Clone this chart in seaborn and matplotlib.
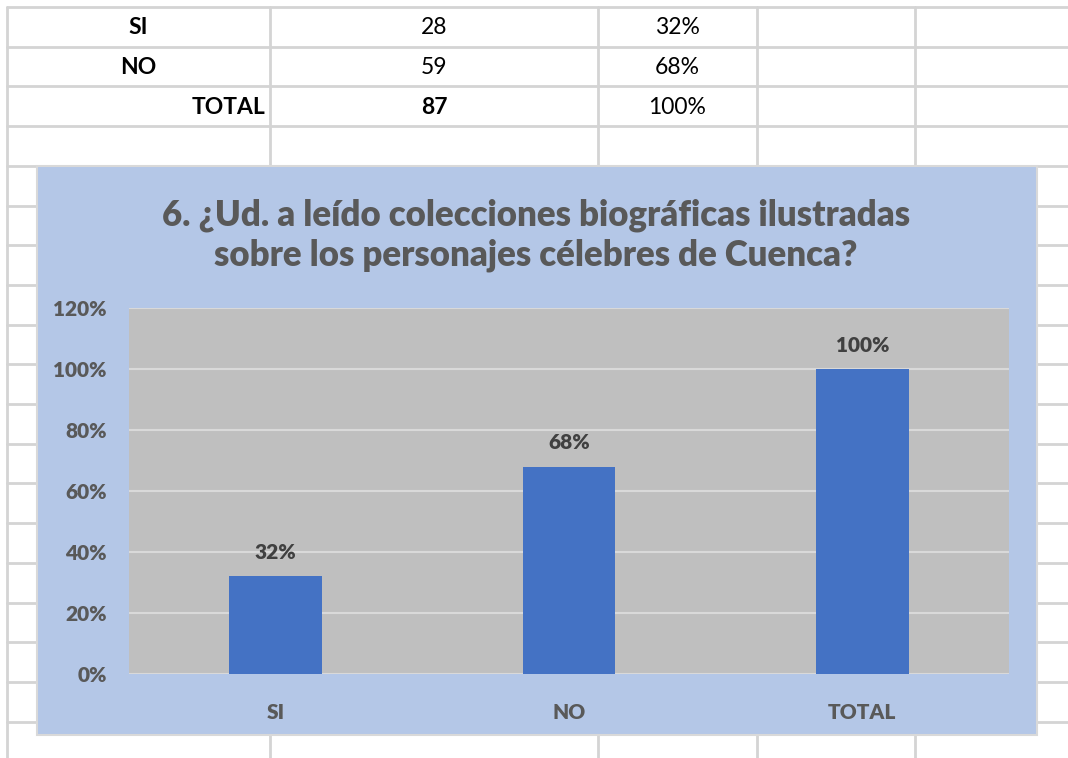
import matplotlib
matplotlib.use('Agg')
import matplotlib.pyplot as plt
import seaborn as sns
import pandas as pd
from matplotlib.lines import Line2D
from matplotlib.patches import Rectangle

# Data
categorias = ['SI', 'NO', 'TOTAL']
frecuencias = [28, 59, 87]
porcentajes = [0.32, 0.68, 1.00]
titulo = '6. ¿Ud. a leído colecciones biográficas ilustradas\nsobre los personajes célebres de Cuenca?'

W, H = 1068, 758
sns.set_theme(style='white')
plt.rcParams['font.family'] = ['Lato', 'DejaVu Sans']

fig = plt.figure(figsize=(W / 100, H / 100), dpi=100)
fig.patch.set_facecolor('white')


def fx(px):
    return px / W


def fy(py):
    return 1 - py / H


# Spreadsheet grid
grid_col = '#D4D4D4'
for x in [7, 270, 598, 757, 915]:
    fig.add_artist(Line2D([fx(x), fx(x)], [0, fy(7)], color=grid_col, lw=2))
for k in range(19):
    y = 7 + 39.7 * k
    fig.add_artist(Line2D([fx(7), 1], [fy(y), fy(y)], color=grid_col, lw=2))

# Table cells
row_y = [28, 68, 107]
for i, cat in enumerate(categorias):
    if cat == 'TOTAL':
        fig.text(fx(265), fy(row_y[i]), cat, ha='right', va='center',
                 fontsize=16.5, fontweight='bold', color='black')
    else:
        fig.text(fx(138), fy(row_y[i]), cat, ha='center', va='center',
                 fontsize=16.5, fontweight='bold', color='black')
    fig.text(fx(434), fy(row_y[i]), str(frecuencias[i]), ha='center', va='center',
             fontsize=16.5, fontweight='bold' if cat == 'TOTAL' else 'normal', color='black')
    fig.text(fx(677), fy(row_y[i]), f'{porcentajes[i]:.0%}', ha='center', va='center',
             fontsize=16.5, color='black')

# Chart box
fig.add_artist(Rectangle((fx(37), fy(735)), fx(1037) - fx(37), fy(166) - fy(735),
                         transform=fig.transFigure, facecolor='#B4C7E7',
                         edgecolor='#D9D9D9', lw=1.5, zorder=2))

fig.text(fx(536), fy(235), titulo, ha='center', va='center', fontsize=25,
         fontweight='heavy', color='#595959', linespacing=1.25, zorder=3)

ax = fig.add_axes([fx(129), fy(674), fx(1009) - fx(129), fy(308) - fy(674)], zorder=4)
ax.set_facecolor('#BFBFBF')

df = pd.DataFrame({'cat': categorias, 'pct': porcentajes})
sns.barplot(data=df, x='cat', y='pct', color='#4472C4', width=0.317,
            saturation=1, ax=ax, zorder=3, edgecolor='none', linewidth=0)

ax.set_ylim(0, 1.2)
ax.set_yticks([i / 5 for i in range(7)])
ax.set_yticklabels([f'{i * 20}%' for i in range(7)], fontweight='heavy',
                   fontsize=15, color='#595959')
ax.set_xticks(range(len(categorias)))
ax.set_xticklabels(categorias, fontweight='heavy', fontsize=15, color='#595959')
ax.yaxis.grid(True, color='#D9D9D9', lw=1.5, zorder=0)
ax.set_axisbelow(True)
for s in ax.spines.values():
    s.set_visible(False)
ax.set_xlabel('')
ax.set_ylabel('')
ax.tick_params(axis='y', length=0, pad=16)
ax.tick_params(axis='x', length=0, pad=21)

for i, v in enumerate(porcentajes):
    ax.annotate(f'{v:.0%}', (i, v), xytext=(0, 17), textcoords='offset points',
                ha='center', va='center', fontsize=15, fontweight='heavy', color='#404040')

fig.savefig('out.png', dpi=100)
